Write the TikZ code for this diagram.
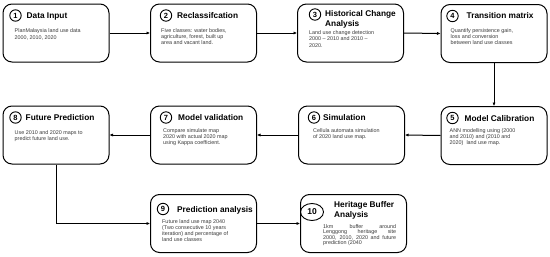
\documentclass[tikz,border=0pt]{standalone}
\usepackage{fontspec}
\setmainfont{Liberation Sans}
\usetikzlibrary{arrows.meta,shapes.geometric}
\definecolor{bodygray}{HTML}{3A3A3A}
\begin{document}
\begin{tikzpicture}[x=1pt,y=-1pt,
  stepbox/.style={draw, rounded corners=9pt, line width=1pt, minimum width=106pt, minimum height=58pt, inner sep=0pt},
  num/.style={draw, circle, line width=0.9pt, minimum size=11.4pt, inner sep=0pt, font=\fontsize{7.5}{8}\selectfont\bfseries},
  ttl/.style={anchor=base west, inner sep=0pt, font=\fontsize{8.3}{10}\selectfont\bfseries},
  ttltwo/.style={anchor=north west, inner sep=0pt, align=left, font=\fontsize{8.3}{10}\selectfont\bfseries},
  body/.style={anchor=north west, inner sep=0pt, align=left, text=bodygray},
  conn/.style={line width=1pt, -{Latex[length=3.5pt,width=3.2pt]}}]
\useasboundingbox[fill=white] (0,0) rectangle (550,257);

\node[stepbox] (b1) at (56,33) {};
\node[stepbox] (b2) at (203.5,33) {};
\node[stepbox] (b3) at (350.5,33) {};
\node[stepbox] (b4) at (494,33.5) {};
\node[stepbox] (b5) at (494,135.5) {};
\node[stepbox] (b6) at (351.5,135) {};
\node[stepbox] (b7) at (203.5,135) {};
\node[stepbox] (b8) at (56,135) {};
\node[stepbox] (b9) at (203.5,223.5) {};
\node[stepbox] (b10) at (353.5,223.5) {};

% 1
\node[num] (n1) at ([shift={(13,12)}]b1.north west) {1};
\node[ttl] (t1) at ([shift={(24,15)}]b1.north west) {Data Input};
\node[body, font=\fontsize{5.4}{7.5}\selectfont] (d1) at ([shift={(12,24.5)}]b1.north west) {PlanMalaysia land use data\\2000, 2010, 2020};
% 2
\node[num] (n2) at ([shift={(16,12)}]b2.north west) {2};
\node[ttl] (t2) at ([shift={(27,15)}]b2.north west) {Reclassifcation};
\node[body, font=\fontsize{5.4}{6}\selectfont] (d2) at ([shift={(11,24.5)}]b2.north west) {Five classes: water bodies,\\agriculture, forest, built up\\area and vacant land.};
% 3
\node[num] (n3) at ([shift={(18,11)}]b3.north west) {3};
\node[ttltwo] (t3) at ([shift={(28,7)}]b3.north west) {Historical Change\\Analysis};
\node[body, font=\fontsize{5.4}{6.5}\selectfont] (d3) at ([shift={(12,26.5)}]b3.north west) {Land use change detection\\2000 -- 2010 and 2010 --\\2020.};
% 4
\node[num] (n4) at ([shift={(12,12)}]b4.north west) {4};
\node[ttl] (t4) at ([shift={(26,15)}]b4.north west) {Transition matrix};
\node[body, font=\fontsize{5.4}{6}\selectfont] (d4) at ([shift={(10,24.5)}]b4.north west) {Quantify persistence gain,\\loss and conversion\\between land use classes};
% 5
\node[num] (n5) at ([shift={(12,12)}]b5.north west) {5};
\node[ttl] (t5) at ([shift={(24,15)}]b5.north west) {Model Calibration};
\node[body, font=\fontsize{5.4}{6}\selectfont] (d5) at ([shift={(9,22.5)}]b5.north west) {ANN modelling using (2000\\and 2010) and (2010 and\\2020)\ \ land use map.};
% 6
\node[num] (n6) at ([shift={(16,12)}]b6.north west) {6};
\node[ttl] (t6) at ([shift={(25,15)}]b6.north west) {Simulation};
\node[body, font=\fontsize{5.4}{6}\selectfont] (d6) at ([shift={(15,22.5)}]b6.north west) {Cellula automata simulation\\of 2020 land use map.};
% 7
\node[num] (n7) at ([shift={(16,12)}]b7.north west) {7};
\node[ttl] (t7) at ([shift={(28,15)}]b7.north west) {Model validation};
\node[body, font=\fontsize{5.4}{6}\selectfont] (d7) at ([shift={(13,22.5)}]b7.north west) {Compare simulate map\\2020 with actual 2020 map\\using Kappa coefficient.};
% 8
\node[num] (n8) at ([shift={(13,12)}]b8.north west) {8};
\node[ttl] (t8) at ([shift={(23,15)}]b8.north west) {Future Prediction};
\node[body, font=\fontsize{5.4}{6.8}\selectfont] (d8) at ([shift={(12,24.5)}]b8.north west) {Use 2010 and 2020 maps to\\predict future land use.};
% 9
\node[num] (n9) at ([shift={(13,15)}]b9.north west) {9};
\node[ttl] (t9) at ([shift={(27,18)}]b9.north west) {Prediction analysis};
\node[body, font=\fontsize{5.4}{6}\selectfont] (d9) at ([shift={(12,25.5)}]b9.north west) {Future land use map 2040\\(Two consecutive 10 years\\iteration) and percentage of\\land use classes};
% 10
\node[draw, ellipse, line width=0.9pt, minimum width=23pt, minimum height=17pt, inner sep=0pt, font=\fontsize{8.5}{9}\selectfont\bfseries] (n10) at ([shift={(12,18)}]b10.north west) {10};
\node[ttltwo] (t10) at ([shift={(34,7)}]b10.north west) {Heritage Buffer\\Analysis};
\node[body, font=\fontsize{5.4}{5.3}\selectfont] (d10) at ([shift={(23,30.5)}]b10.north west) {\makebox[73pt][s]{1km buffer around}\\\makebox[73pt][s]{Lenggong heritage site}\\\makebox[73pt][s]{2000, 2010, 2020 and future}\\prediction (2040};

% connectors
\draw[conn] (b1.east) -- (b2.west);
\draw[conn] (b2.east) -- (b3.west);
\draw[conn] (b3.east) -- (b4.west);
\draw[conn] (b4.south) -- (b5.north);
\draw[conn] (b5.west) -- (b6.east);
\draw[conn] (b6.west) -- (b7.east);
\draw[conn] (b7.west) -- (b8.east);
\draw[conn] (b8.south) |- (b9.west);
\draw[conn] (b9.east) -- (b10.west);
\end{tikzpicture}
\end{document}
